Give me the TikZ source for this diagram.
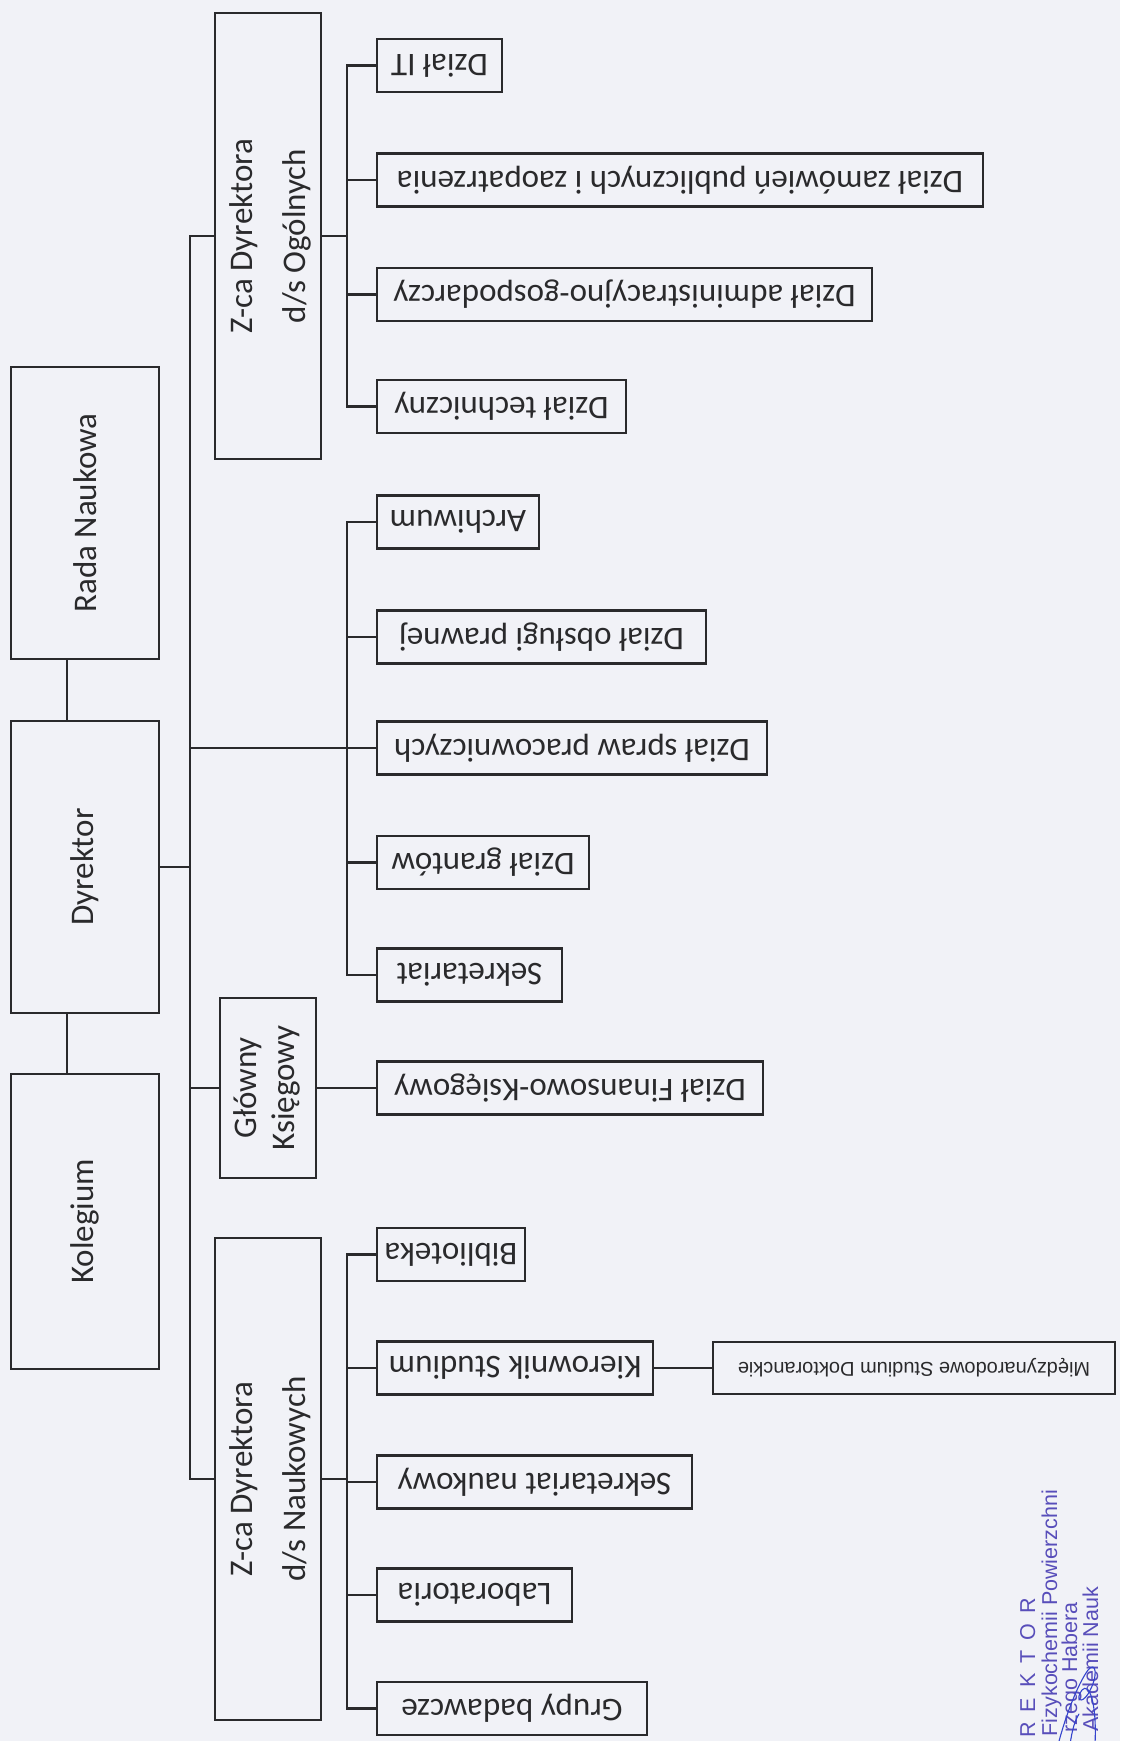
\documentclass[tikz,border=0pt]{standalone}
\usepackage{fontspec}
\usepackage{graphicx}
\setmainfont{Carlito}
\newfontfamily\stampfont{Liberation Sans}
\definecolor{paper}{RGB}{241,242,247}
\definecolor{ink}{RGB}{42,42,44}
\definecolor{stampblue}{RGB}{88,78,186}
\definecolor{penblue}{RGB}{52,68,205}
\newcommand{\upsd}[1]{\rotatebox{180}{#1}}
\newcommand{\sidew}[1]{\rotatebox{90}{#1}}
\begin{document}
\begin{tikzpicture}[x=1pt,y=-1pt,
  colbox/.style={draw=ink, line width=2pt, inner sep=0pt, outer sep=0pt, text=ink,
    font=\fontsize{33}{40}\selectfont},
  leftbox/.style={colbox, minimum width=148pt},
  midbox/.style={colbox, minimum width=96pt},
  childbox/.style={draw=ink, line width=2.6pt, inner sep=0pt, outer sep=0pt, text=ink,
    anchor=west, minimum height=53pt, font=\fontsize{33}{40}\selectfont},
  conn/.style={draw=ink, line width=2.6pt},
  thinconn/.style={draw=ink, line width=1.8pt},
  stamp/.style={text=stampblue, inner sep=0pt, outer sep=0pt, rotate=90, anchor=base east,
    font=\stampfont\fontsize{21.5}{22}\selectfont},
  sig/.style={draw=penblue, line width=1.1pt, line cap=round}]
\useasboundingbox (0,0) rectangle (1120,1741);
\clip (0,0) rectangle (1120,1741);
\fill[paper] (0,0) rectangle (1120,1741);

% left column
\node[leftbox, minimum height=292pt] (rada) at (85,513) {\sidew{Rada Naukowa}};
\node[leftbox, minimum height=292pt] (dyr) at (85,867) {\sidew{Dyrektor}};
\node[leftbox, minimum height=295pt] (kol) at (85,1221.5) {\sidew{Kolegium}};

% second column
\node[midbox, minimum height=446pt] (zog) at (268,236)
  {\sidew{\fontsize{33}{53}\selectfont\begin{tabular}{@{}c@{}}Z-ca Dyrektora\\d/s Ogólnych\end{tabular}}};
\node[midbox, minimum height=180pt] (gk) at (268,1088)
  {\sidew{\fontsize{33}{38}\selectfont\begin{tabular}{@{}c@{}}Główny\\Księgowy\end{tabular}}};
\node[midbox, minimum height=482pt] (zn) at (268,1479)
  {\sidew{\fontsize{33}{53}\selectfont\begin{tabular}{@{}c@{}}Z-ca Dyrektora\\d/s Naukowych\end{tabular}}};

% children
\node[childbox, minimum width=125pt] (it) at (377,65.5) {\upsd{Dział IT}};
\node[childbox, minimum width=606pt] (zam) at (377,180) {\upsd{Dział zamówień publicznych i zaopatrzenia}};
\node[childbox, minimum width=495pt] (adm) at (377,294.5) {\upsd{Dział administracyjno-gospodarczy}};
\node[childbox, minimum width=249pt] (tech) at (377,406.5) {\upsd{Dział techniczny}};

\node[childbox, minimum width=162pt] (arch) at (377,522) {\upsd{Archiwum}};
\node[childbox, minimum width=329pt] (obs) at (377,637) {\upsd{Dział obsługi prawnej}};
\node[childbox, minimum width=390pt] (spr) at (377,748) {\upsd{Dział spraw pracowniczych}};
\node[childbox, minimum width=212pt] (gr) at (377,862.5) {\upsd{Dział grantów}};
\node[childbox, minimum width=185pt] (sek) at (377,975) {\upsd{Sekretariat}};

\node[childbox, minimum width=386pt] (fin) at (377,1088) {\upsd{Dział Finansowo-Księgowy}};

\node[childbox, minimum width=148pt] (bib) at (377,1254.5) {\upsd{Biblioteka}};
\node[childbox, minimum width=276pt] (kier) at (377,1368) {\upsd{Kierownik Studium}};
\node[childbox, minimum width=315pt] (sekn) at (377,1482) {\upsd{Sekretariat naukowy}};
\node[childbox, minimum width=195pt] (lab) at (377,1595) {\upsd{Laboratoria}};
\node[childbox, minimum width=270pt] (grb) at (377,1708.5) {\upsd{Grupy badawcze}};

\node[childbox, minimum width=402pt, minimum height=52pt, font=\stampfont\fontsize{20}{24}\selectfont]
  (msd) at (713,1368) {\upsd{Międzynarodowe Studium Doktoranckie}};

% helper x positions
\coordinate (tx) at (190,0);
\coordinate (bx) at (347,0);
\coordinate (lx) at (67,0);

% left connectors
\draw[thinconn] (rada.south -| lx) -- (dyr.north -| lx);
\draw[thinconn] (dyr.south -| lx) -- (kol.north -| lx);
\draw[conn] (dyr.east) -- (dyr.east -| tx);

% trunk
\draw[conn, line join=miter] (zog.west) -- (zog.west -| tx) -- (zn.west -| tx) -- (zn.west);
\draw[conn] (gk.west -| tx) -- (gk.west);
\draw[conn] (spr.west -| tx) -- (spr.west);

% top group
\draw[conn] (zog.east) -- (zog.east -| bx);
\draw[conn, line join=miter] (it.west) -- (it.west -| bx) -- (tech.west -| bx) -- (tech.west);
\foreach \c in {zam,adm} \draw[conn] (\c.west -| bx) -- (\c.west);

% middle group
\draw[conn, line join=miter] (arch.west) -- (arch.west -| bx) -- (sek.west -| bx) -- (sek.west);
\foreach \c in {obs,gr} \draw[conn] (\c.west -| bx) -- (\c.west);

% accounting
\draw[conn] (gk.east) -- (fin.west);

% bottom group
\draw[conn] (zn.east) -- (zn.east -| bx);
\draw[conn, line join=miter] (bib.west) -- (bib.west -| bx) -- (grb.west -| bx) -- (grb.west);
\foreach \c in {kier,sekn,lab} \draw[conn] (\c.west -| bx) -- (\c.west);
\draw[conn] (kier.east) -- (msd.west);

% stamp
\node[stamp] (s1) at (1035,1598) {{\spaceskip=10pt R E K T O R}};
\node[stamp] (s2) at (1057,1490) {Fizykochemii Powierzchni};
\node[stamp] (s3) at (1077,1602) {rzego Habera};
\node[stamp] (s4) at (1098,1587) {Akademii Nauk};

% signature
\draw[sig] (1058,1745) .. controls (1066,1714) and (1078,1684) .. (1088,1670)
  .. controls (1096,1660) and (1099,1676) .. (1088,1694)
  .. controls (1081,1705) and (1075,1699) .. (1082,1690)
  .. controls (1089,1682) and (1097,1702) .. (1095,1745);
\draw[sig] (1070,1745) .. controls (1072,1730) and (1075,1720) .. (1079,1714);
\end{tikzpicture}
\end{document}
